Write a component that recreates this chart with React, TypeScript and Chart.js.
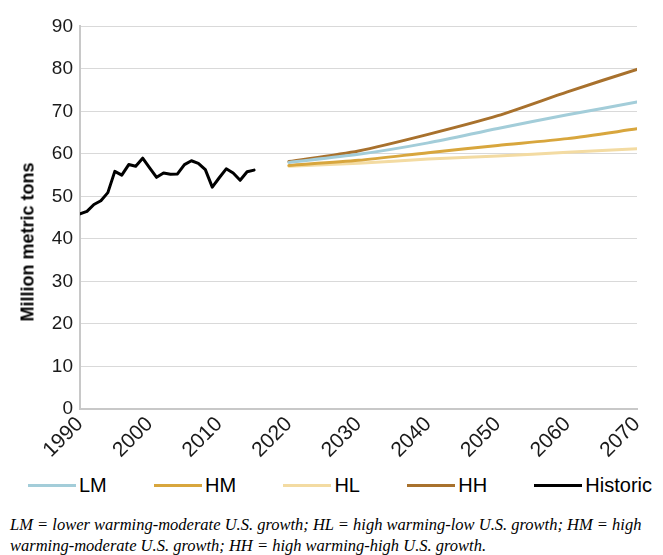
import React, { useEffect, useRef } from "react";
import { Chart, registerables } from "chart.js";

Chart.register(...registerables);

// ---- data ----
const historicYears = [
  1990, 1991, 1992, 1993, 1994, 1995, 1996, 1997, 1998, 1999, 2000, 2001, 2002,
  2003, 2004, 2005, 2006, 2007, 2008, 2009, 2010, 2011, 2012, 2013, 2014, 2015,
];
const historicValues = [
  45.9, 46.5, 48.1, 49.0, 50.9, 55.9, 55.0, 57.5, 57.1, 59.0, 56.7, 54.5, 55.5,
  55.2, 55.3, 57.5, 58.4, 57.8, 56.3, 52.2, 54.4, 56.5, 55.5, 53.8, 55.8, 56.2,
];
const projectionYears = [2020, 2030, 2040, 2050, 2060, 2070];
const lmValues = [58.0, 59.9, 62.6, 66.0, 69.2, 72.2];
const hmValues = [57.3, 58.5, 60.3, 62.0, 63.6, 65.9];
const hlValues = [57.1, 57.8, 58.8, 59.5, 60.4, 61.2];
const hhValues = [58.2, 60.7, 64.6, 69.0, 74.6, 79.9];

const seriesLabels = ["LM", "HM", "HL", "HH", "Historic"];
const seriesColors = ["#a3cdd9", "#d8a63d", "#f3dba2", "#a8712d", "#000000"];

const yMin = 0;
const yMax = 90;
const yStep = 10;
const xMin = 1990;
const xMax = 2070;
const xStep = 10;

const yTitle = "Million metric tons";
const captionLine1 =
  "LM = lower warming-moderate U.S. growth; HL = high warming-low U.S. growth; HM = high";
const captionLine2 = "warming-moderate U.S. growth; HH = high warming-high U.S. growth.";

const toPoints = (xs: number[], ys: number[]) => xs.map((x, i) => ({ x, y: ys[i] }));

export default function App() {
  const canvasRef = useRef<HTMLCanvasElement | null>(null);

  useEffect(() => {
    document.documentElement.style.overflow = "hidden";
    document.body.style.overflow = "hidden";
    const canvas = canvasRef.current;
    if (!canvas) return;
    const seriesValues = [lmValues, hmValues, hlValues, hhValues];
    const datasets: any[] = seriesValues.map((vals, i) => ({
      label: seriesLabels[i],
      data: toPoints(projectionYears, vals),
      borderColor: seriesColors[i],
      backgroundColor: seriesColors[i],
      borderWidth: 3,
      pointRadius: 0,
      tension: 0.25,
      borderCapStyle: "round",
      borderJoinStyle: "round",
    }));
    datasets.push({
      label: seriesLabels[4],
      data: toPoints(historicYears, historicValues),
      borderColor: seriesColors[4],
      backgroundColor: seriesColors[4],
      borderWidth: 3,
      pointRadius: 0,
      tension: 0,
      borderCapStyle: "round",
      borderJoinStyle: "round",
    });

    const family = "'Liberation Sans', Arial, sans-serif";

    const chart = new Chart(canvas, {
      type: "line",
      data: { datasets },
      options: {
        animation: false,
        responsive: true,
        maintainAspectRatio: false,
        layout: { padding: { left: 0, right: 18, top: 11, bottom: 0 } },
        plugins: {
          legend: { display: false },
          tooltip: { enabled: false },
        },
        scales: {
          x: {
            type: "linear",
            min: xMin,
            max: xMax,
            ticks: {
              stepSize: xStep,
              minRotation: 45,
              maxRotation: 45,
              font: { family, size: 21 },
              color: "#1a1a1a",
              padding: 3,
              callback: (v: any) => String(v),
            },
            grid: { display: false, drawTicks: false },
            border: { display: true, color: "#c8c8c8", width: 2 },
            afterFit: (s: any) => {
              s.height = 59;
              s.paddingRight = 0;
              s.paddingLeft = 0;
            },
          },
          y: {
            min: yMin,
            max: yMax,
            ticks: {
              stepSize: yStep,
              font: { family, size: 19 },
              color: "#1a1a1a",
              padding: 7,
            },
            grid: { color: "#d9d9d9", lineWidth: 1, drawTicks: false },
            border: { display: true, color: "#c8c8c8", width: 2 },
            afterFit: (s: any) => {
              s.width = 72;
            },
          },
        },
      },
    });
    return () => chart.destroy();
  }, []);

  return (
    <div>
      <div style={{ position: "relative", width: 647, height: 460 }}>
        <canvas ref={canvasRef} />
        <div
          style={{
            position: "absolute",
            left: 20,
            top: 234,
            transform: "translate(-50%, -50%) rotate(-90deg)",
            whiteSpace: "nowrap",
            fontFamily: "'Liberation Sans', Arial, sans-serif",
            fontWeight: "bold",
            fontSize: 18,
            color: "#000",
          }}
        >
          {yTitle}
        </div>
      </div>
      <div
        style={{
          display: "flex",
          alignItems: "center",
          justifyContent: "space-between",
          width: 624,
          marginLeft: 20,
          height: 34,
          fontFamily: "'Liberation Sans', Arial, sans-serif",
          fontSize: 20,
          color: "#000",
        }}
      >
        {seriesLabels.map((lab, i) => (
          <div key={lab} style={{ display: "flex", alignItems: "center" }}>
            <span
              style={{
                display: "inline-block",
                width: 48,
                height: 3,
                background: seriesColors[i],
              }}
            />
            <span style={{ marginLeft: 3 }}>{lab}</span>
          </div>
        ))}
      </div>
      <div
        style={{
          marginTop: 12,
          paddingLeft: 2,
          fontFamily: "'Liberation Serif', 'Times New Roman', serif",
          fontStyle: "italic",
          fontSize: 16.5,
          lineHeight: "21px",
          color: "#000",
          whiteSpace: "nowrap",
        }}
      >
        {captionLine1}
        <br />
        {captionLine2}
      </div>
    </div>
  );
}
